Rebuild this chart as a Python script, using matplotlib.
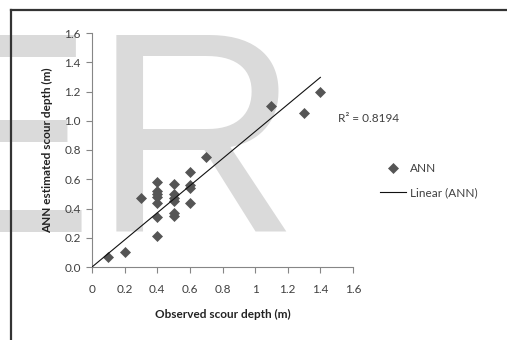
import numpy as np
import matplotlib.pyplot as plt
from matplotlib.lines import Line2D

# observed vs ANN estimated scour depth (m)
observed = [0.1, 0.2, 0.3,
            0.4, 0.4, 0.4, 0.4, 0.4, 0.4, 0.4,
            0.5, 0.5, 0.5, 0.5, 0.5, 0.5,
            0.6, 0.6, 0.6, 0.6,
            0.7, 1.1, 1.3, 1.4]
estimated = [0.065, 0.10, 0.47,
             0.58, 0.52, 0.50, 0.48, 0.44, 0.34, 0.21,
             0.57, 0.50, 0.47, 0.45, 0.37, 0.35,
             0.65, 0.56, 0.54, 0.44,
             0.75, 1.10, 1.05, 1.20]
r_squared = 0.8194
ticks = [0, 0.2, 0.4, 0.6, 0.8, 1.0, 1.2, 1.4, 1.6]
xtick_labels = ["0", "0.2", "0.4", "0.6", "0.8", "1", "1.2", "1.4", "1.6"]
ytick_labels = ["0.0", "0.2", "0.4", "0.6", "0.8", "1.0", "1.2", "1.4", "1.6"]

plt.rcParams['font.family'] = ['Lato', 'DejaVu Sans']

W, H = 507, 340
fig = plt.figure(figsize=(W / 100, H / 100), dpi=100)

# big grey letters sitting behind the chart
fig.text(-97 / W, 1 - 232 / H, "ER", fontsize=206, color="#dadada",
         family="Liberation Sans", ha="left", va="baseline", zorder=-5)

# outer chart frame (only top and left edges fall inside the image)
fig.add_artist(Line2D([11 / W, 11 / W], [0, 1 - 10 / H], color="#333333", lw=1.6))
fig.add_artist(Line2D([11 / W, 1], [1 - 10 / H, 1 - 10 / H], color="#333333", lw=1.6))

ax = fig.add_axes([92 / W, 1 - 267 / H, (353 - 92) / W, (267 - 33) / H])
ax.set_facecolor("none")

x = np.array(observed)
y = np.array(estimated)
pts, = ax.plot(x, y, ls="none", marker="D", ms=5.3, mfc="#555555", mec="#555555",
               mew=0.5, label="ANN", zorder=3)

# linear trendline forced through the origin
slope = np.sum(x * y) / np.sum(x * x)
xs = np.array([0, x.max()])
trend, = ax.plot(xs, slope * xs, color="#111111", lw=0.8, label="Linear (ANN)", zorder=4)

ax.set_xlim(0, 1.6)
ax.set_ylim(0, 1.6)
ax.set_xticks(ticks)
ax.set_xticklabels(xtick_labels)
ax.set_yticks(ticks)
ax.set_yticklabels(ytick_labels)

for side in ["top", "right"]:
    ax.spines[side].set_visible(False)
for side in ["left", "bottom"]:
    ax.spines[side].set_color("#868686")
    ax.spines[side].set_linewidth(0.8)
ax.tick_params(direction="out", length=4, width=0.8, color="#868686",
               labelcolor="#404040", labelsize=8.5)
ax.tick_params(axis="x", pad=8)
ax.tick_params(axis="y", pad=4)

ax.set_xlabel("Observed scour depth (m)", fontsize=8.5, fontweight="bold",
              color="#222222", labelpad=10)
ax.set_ylabel("ANN estimated scour depth (m)", fontsize=8.5, fontweight="bold",
              color="#222222", labelpad=8)

fig.text(338 / W, 1 - 119 / H, "R² = 0.8194", fontsize=8.5, color="#404040",
         ha="left", va="center")

ax.legend(handles=[pts, trend], loc="upper left",
          bbox_to_anchor=(380 / W, 1 - 163 / H), bbox_transform=fig.transFigure,
          frameon=False, fontsize=8.5, handlelength=2.2, handletextpad=0.3,
          labelspacing=1.1, borderpad=0, borderaxespad=0, labelcolor="#404040")

fig.savefig("out.png", dpi=100)
